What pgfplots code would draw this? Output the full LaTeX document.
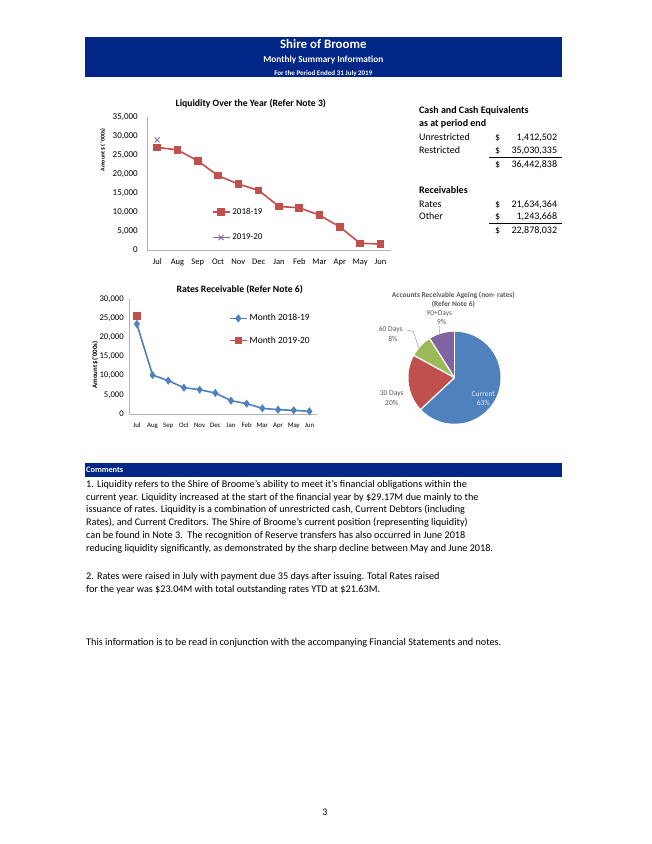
\documentclass[border=0pt]{standalone}
\usepackage{fontspec}
\setmainfont{Carlito}
\usepackage{pgfplots}
\pgfplotsset{compat=1.18}
\definecolor{navy}{RGB}{0,38,135}
\definecolor{cBlue}{RGB}{79,129,189}
\definecolor{cRed}{RGB}{192,80,77}
\definecolor{cGreen}{RGB}{155,187,89}
\definecolor{cPurple}{RGB}{128,100,162}
\definecolor{cGrey}{RGB}{89,89,89}
\definecolor{cLight}{RGB}{225,233,245}
\newcommand{\fs}[1]{\fontsize{#1}{#1}\selectfont}
\begin{document}
\begin{tikzpicture}
\useasboundingbox (0,0) rectangle (652pt,-844pt);
\fill[white] (0,0) rectangle (652pt,-844pt);

% pie: Current 63%, 30 Days 20%, 60 Days 8%, 90+ Days 9% (clockwise from 12 o'clock)
\begin{scope}[shift={(454.5pt,-377.7pt)}]
\foreach \a/\b/\c in {90/-136.8/cBlue, -136.8/-208.8/cRed, -208.8/-237.6/cGreen, -237.6/-270/cPurple}{
  \fill[\c] (0,0) -- (\a:46pt) arc[start angle=\a, end angle=\b, radius=46pt] -- cycle;
}
\foreach \a in {90,-136.8,-208.8,-237.6}{
  \draw[white,line width=1.3pt] (0,0) -- (\a:46.5pt);
}
\end{scope}

\begin{scope}[x=1pt,y=-1pt]
% header
\fill[navy] (85,37.3) rectangle (562.3,77.3);
\node[anchor=base,inner sep=0,text=white,font=\fs{12.9}\bfseries] at (323.3,48.9) {Shire of Broome};
\node[anchor=base,inner sep=0,text=white,font=\fs{9.3}\bfseries] at (323.3,62.8) {Monthly Summary Information};
\node[anchor=base,inner sep=0,text=white,font=\fs{7}\bfseries] at (323.3,75.4) {For the Period Ended 31 July 2019};
% chart titles
\node[anchor=base,inner sep=0,font=\fs{9.7}\bfseries] at (250.8,106.9) {Liquidity Over the Year (Refer Note 3)};
\node[anchor=base,inner sep=0,font=\fs{9.7}\bfseries] at (239.7,292.9) {Rates Receivable (Refer Note 6)};
\node[rotate=90,inner sep=0,font=\fs{5.8}\bfseries] at (103,150) {Amount \$ ( '000s)};
\node[rotate=90,inner sep=0,font=\fs{6.8}\bfseries] at (95,365) {Amount \$('000s)};
% right panel
\begin{scope}[every node/.style={inner sep=0,font=\fs{10}}]
\node[anchor=base west,font=\fs{10}\bfseries] at (419,113.7) {Cash and Cash Equivalents};
\node[anchor=base west,font=\fs{10}\bfseries] at (419,126.3) {as at period end};
\node[anchor=base west] at (419,140.3) {Unrestricted};
\node[anchor=base west] at (495,140.3) {\$};
\node[anchor=base east] at (557.3,140.3) {1,412,502};
\node[anchor=base west] at (419,153) {Restricted};
\node[anchor=base west] at (495,153) {\$};
\node[anchor=base east] at (557.3,153) {35,030,335};
\draw[line width=0.6pt] (489.3,157.3) -- (561.7,157.3);
\node[anchor=base west] at (495,167.3) {\$};
\node[anchor=base east] at (557.3,167.3) {36,442,838};
\node[anchor=base west,font=\fs{10}\bfseries] at (419,193.7) {Receivables};
\node[anchor=base west] at (419,207) {Rates};
\node[anchor=base west] at (495,207) {\$};
\node[anchor=base east] at (557.3,207) {21,634,364};
\node[anchor=base west] at (419,219.7) {Other};
\node[anchor=base west] at (495,219.7) {\$};
\node[anchor=base east] at (557.3,219.7) {1,243,668};
\draw[line width=0.6pt] (489.3,223.3) -- (561.7,223.3);
\node[anchor=base west] at (495,233.7) {\$};
\node[anchor=base east] at (557.3,233.7) {22,878,032};
\end{scope}
% pie title and labels
\node[anchor=base,inner sep=0,text=cGrey,font=\fs{7.4}\bfseries] at (453.3,297.2) {Accounts Receivable Ageing (non- rates)};
\node[anchor=base,inner sep=0,text=cGrey,font=\fs{7.4}\bfseries] at (453.3,306.2) {(Refer Note 6)};
\begin{scope}[every node/.style={anchor=base,inner sep=0,text=cGrey,font=\fs{7.5}}]
\node at (439.3,315.6) {90+Days};
\node at (441.7,324) {9\%};
\node at (390.7,331.6) {60 Days};
\node at (393,341) {8\%};
\node at (391.7,395.6) {30 Days};
\node at (391.7,405) {20\%};
\node[text=cLight] at (483.3,396.3) {Current};
\node[text=cLight] at (483.3,405) {63\%};
\end{scope}
\draw[cGrey!60,line width=0.5pt] (407.3,330) -- (413.3,331.7) -- (419,348.3);
\draw[cGrey!60,line width=0.5pt] (440,326) -- (439.5,333);
% comments
\fill[navy] (85,463.3) rectangle (562.3,476.7);
\node[anchor=base west,inner sep=0,text=white,font=\fs{8.3}\bfseries] at (86,472.5) {Comments};
\begin{scope}[every node/.style={anchor=base west,inner sep=0,font=\fs{10.2}}]
\node at (86,487.3) {1. Liquidity refers to the Shire of Broome's ability to meet it's financial obligations within the};
\node at (86,500.1) {current year. Liquidity increased at the start of the financial year by \$29.17M due mainly to the};
\node at (86,512.9) {issuance of rates. Liquidity is a combination of unrestricted cash, Current Debtors (including};
\node at (86,525.7) {Rates), and Current Creditors. The Shire of Broome's current position (representing liquidity)};
\node at (86,538.5) {can be found in Note 3.\ \ The recognition of Reserve transfers has also occurred in June 2018};
\node at (86,551.3) {reducing liquidity significantly, as demonstrated by the sharp decline between May and June 2018.};
\node at (86,579.7) {2. Rates were raised in July with payment due 35 days after issuing. Total Rates raised};
\node at (86,592.5) {for the year was \$23.04M with total outstanding rates YTD at \$21.63M.};
\node at (86,645.5) {This information is to be read in conjunction with the accompanying Financial Statements and notes.};
\end{scope}
\node[anchor=base,inner sep=0,font=\fs{10}] at (325,815.7) {3};
\end{scope}

% Chart 1: Liquidity
\begin{axis}[
  at={(147pt,-250pt)}, anchor=south west, scale only axis,
  width=243.6pt, height=133pt,
  xmin=-0.5, xmax=11.5, ymin=0, ymax=35000,
  axis lines=left, axis line style={draw=black!30,-},
  xtick={0,...,11},
  xticklabels={Jul,Aug,Sep,Oct,Nov,Dec,Jan,Feb,Mar,Apr,May,Jun},
  ytick={0,5000,...,35000},
  major tick length=0pt,
  scaled y ticks=false,
  /pgf/number format/1000 sep={,},
  /pgf/number format/assume math mode=true,
  y tick label style={font=\fs{9}, inner sep=0pt, anchor=east, xshift=-9pt},
  x tick label style={font=\fs{8.5}, inner sep=0pt, anchor=north, yshift=-8pt, text height=6pt, text depth=2pt},
  clip=false,
  legend style={draw=none, fill=none, at={(0.265,0.19)}, anchor=west,
    font=\fs{9}, row sep=14pt, inner sep=0pt},
  legend cell align=left,
]
\addplot[color=cRed, line width=1.6pt, mark=square*, mark size=3pt] coordinates {
 (0,27000) (1,26360) (2,23450) (3,19570) (4,17370) (5,15690)
 (6,11460) (7,11110) (8,9170) (9,6080) (10,1760) (11,1590)};
\addlegendentry{2018-19}
\addplot[color=cPurple, line width=1.2pt, mark=x, mark size=3.5pt, mark options={line width=0.9pt}] coordinates {(0,29000)};
\addlegendentry{2019-20}
\end{axis}

% Chart 2: Rates receivable
\begin{axis}[
  at={(129pt,-414pt)}, anchor=south west, scale only axis,
  width=188.3pt, height=115pt,
  xmin=-0.5, xmax=11.5, ymin=0, ymax=30000,
  axis lines=left, axis line style={draw=black!30,-},
  xtick={0,...,11},
  xticklabels={Jul,Aug,Sep,Oct,Nov,Dec,Jan,Feb,Mar,Apr,May,Jun},
  ytick={0,5000,...,30000},
  major tick length=0pt,
  scaled y ticks=false,
  /pgf/number format/1000 sep={,},
  /pgf/number format/assume math mode=true,
  y tick label style={font=\fs{8.7}, inner sep=0pt, anchor=east, xshift=-5pt},
  x tick label style={font=\fs{6.8}, inner sep=0pt, anchor=north, yshift=-7.8pt, text height=5pt, text depth=1.5pt},
  clip=false,
  legend style={draw=none, fill=none, at={(0.53,0.735)}, anchor=west,
    font=\fs{9.5}, row sep=10pt, inner sep=0pt},
  legend cell align=left,
]
\addplot[color=cBlue, line width=1.6pt, mark=diamond*, mark size=2.8pt] coordinates {
 (0,23480) (1,10170) (2,8700) (3,6870) (4,6350) (5,5480)
 (6,3480) (7,2700) (8,1480) (9,1130) (10,960) (11,700)};
\addlegendentry{Month 2018-19}
\addplot[color=cRed, line width=1.6pt, mark=square*, mark size=3pt] coordinates {(0,25570)};
\addlegendentry{Month 2019-20}
\end{axis}
\end{tikzpicture}
\end{document}
